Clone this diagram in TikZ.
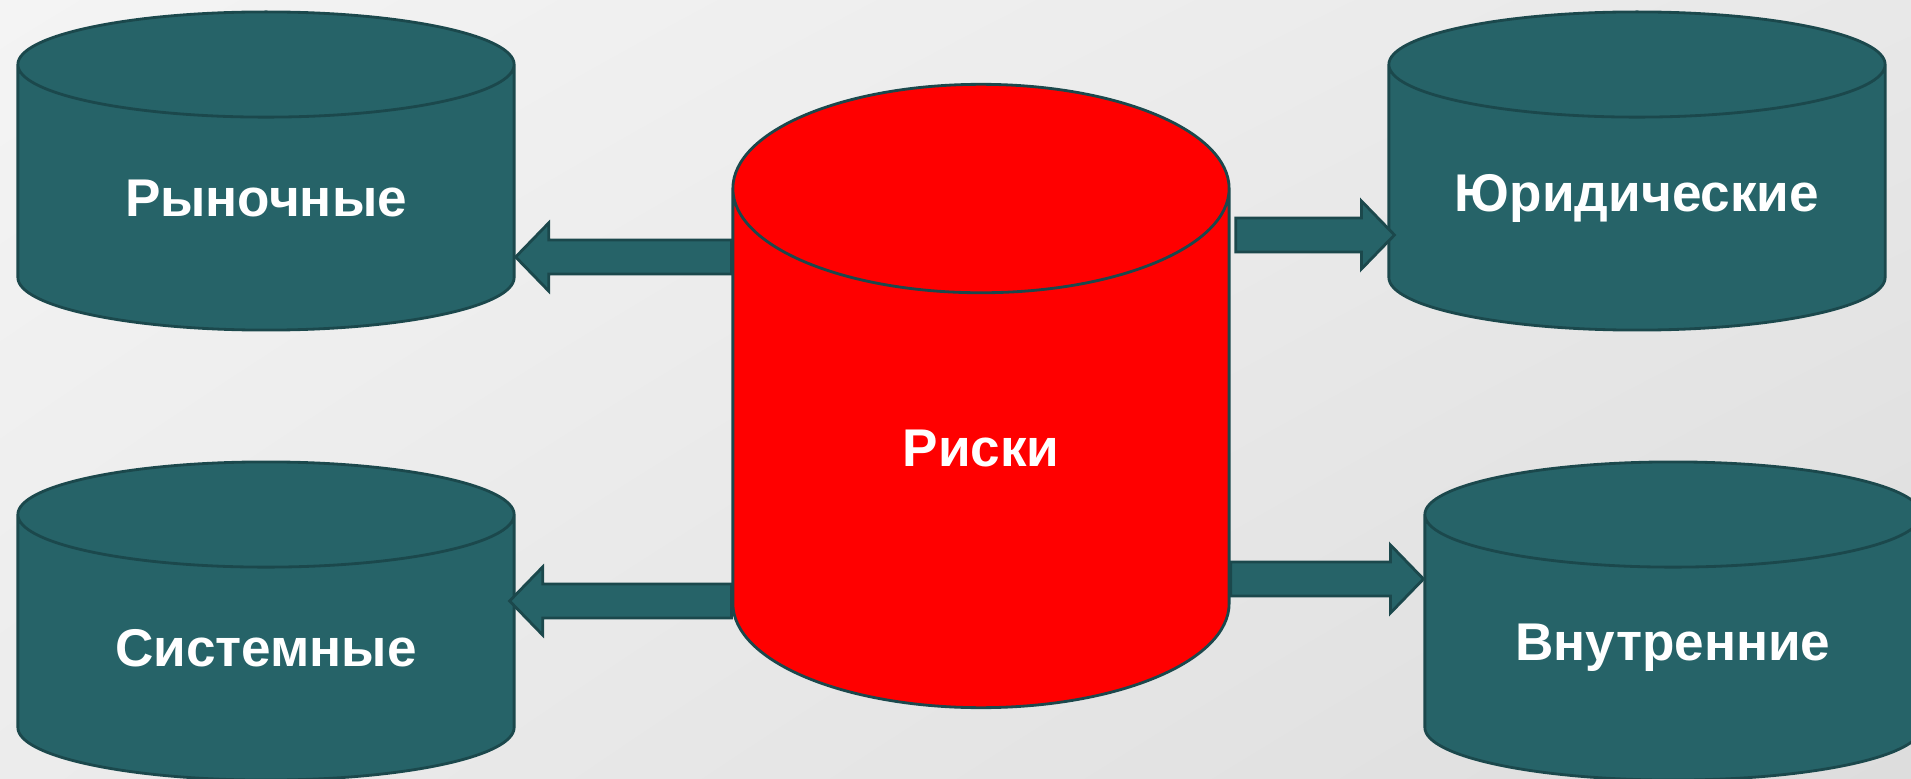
\documentclass[tikz,border=0pt]{standalone}
\usepackage{fontspec}
\setmainfont{Liberation Sans}
\usetikzlibrary{shapes.geometric,calc,shadings}
\definecolor{tealfill}{RGB}{38,99,104}
\definecolor{tealline}{RGB}{27,72,76}
\definecolor{riskred}{RGB}{255,0,0}
\definecolor{bgul}{RGB}{244,244,244}
\definecolor{bgur}{RGB}{232,232,232}
\definecolor{bgll}{RGB}{236,236,236}
\definecolor{bglr}{RGB}{221,221,221}
\newcommand\arrshaft{0.17cm}
\newcommand\arrhead{0.34cm}
\newcommand\arrlen{0.33cm}
% block arrow from #1 (start) to #2 (tip)
\newcommand\blockarrow[2]{%
\draw[flow] let \p1=(#1), \p2=(#2), \n1={ifthenelse(\x2>\x1,1,-1)} in
 (\x1,\y2+\arrshaft) -- (\x2-\n1*\arrlen,\y2+\arrshaft) -- (\x2-\n1*\arrlen,\y2+\arrhead)
 -- (\x2,\y2) -- (\x2-\n1*\arrlen,\y2-\arrhead) -- (\x2-\n1*\arrlen,\y2-\arrshaft)
 -- (\x1,\y2-\arrshaft) -- cycle;}
\tikzset{
 base/.style={cylinder,shape border rotate=90,draw=tealline,line width=0.8pt,
  text width=4.96cm,align=center,inner sep=0pt,text=white,
  font=\fontsize{15.1}{18}\selectfont\bfseries,anchor=shape center},
 kind/.style={base,fill=tealfill,minimum height=3.18cm,aspect=0.212},
 core/.style={base,fill=riskred,minimum height=6.23cm,aspect=0.42},
 flow/.style={draw=tealline,fill=tealfill,line width=0.8pt}
}
\begin{document}
\begin{tikzpicture}[x=0.01cm,y=-0.01cm]
\shade[upper left=bgul,upper right=bgur,lower left=bgll,lower right=bglr]
 (0,0) rectangle (1911,779);
\useasboundingbox (0,0) rectangle (1911,779);
\clip (0,0) rectangle (1911,779);
\node[core](risk) at (981,396){Риски};
\node[kind](market) at (266,171){Рыночные};
\node[kind](legal) at (1637,171){Юридические};
\node[kind](system) at (266,621){Системные};
\node[kind](inner) at (1673,621){Внутренние};
\blockarrow{risk.west |- 0,257}{market.east |- 0,257}
\blockarrow{$(risk.east |- 0,235)+(5,0)$}{$(legal.west |- 0,235)+(7,0)$}
\blockarrow{risk.west |- 0,601}{$(system.east |- 0,601)+(-6,0)$}
\blockarrow{risk.east |- 0,579}{inner.west |- 0,579}
\end{tikzpicture}
\end{document}
